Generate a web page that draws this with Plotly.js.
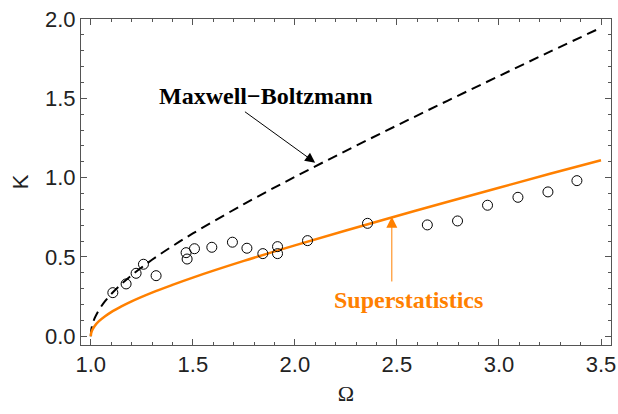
<!DOCTYPE html>
<html>
<head>
<meta charset="utf-8">
<script src="https://cdn.plot.ly/plotly-3.0.1.min.js"></script>
<style>html,body{margin:0;padding:0;background:#fff;}#chart{width:618px;height:414px;}</style>
</head>
<body>
<div id="chart"></div>
<script>
// Curve samples
const omegaCurve = [1.0, 1.002, 1.005, 1.01, 1.02, 1.04, 1.07, 1.1, 1.15, 1.2, 1.3, 1.4, 1.5, 1.75, 2.0, 2.25, 2.5, 2.75, 3.0, 3.25, 3.5];
const kMaxwell   = [0, 0.037, 0.058, 0.082, 0.117, 0.166, 0.221, 0.266, 0.329, 0.385, 0.482, 0.568, 0.648, 0.833, 1.005, 1.169, 1.329, 1.486, 1.640, 1.794, 1.945];
const kSuper     = [0, 0.021, 0.033, 0.047, 0.067, 0.095, 0.126, 0.152, 0.188, 0.220, 0.275, 0.324, 0.370, 0.475, 0.573, 0.667, 0.758, 0.848, 0.936, 1.024, 1.110];

// Measured points (open circles)
const omegaData = [1.108, 1.173, 1.222, 1.258, 1.320, 1.467, 1.472, 1.508, 1.593, 1.694, 1.765, 1.843, 1.915, 1.915, 2.062, 2.356, 2.649, 2.797, 2.944, 3.093, 3.240, 3.382];
const kData     = [0.275, 0.330, 0.397, 0.454, 0.382, 0.527, 0.487, 0.552, 0.561, 0.593, 0.555, 0.521, 0.565, 0.521, 0.603, 0.712, 0.702, 0.727, 0.826, 0.876, 0.910, 0.981];

const xTickVals = [1.0, 1.5, 2.0, 2.5, 3.0, 3.5];
const yTickVals = [0.0, 0.5, 1.0, 1.5, 2.0];

const labelMB = "Maxwell\u2212Boltzmann";
const labelSS = "Superstatistics";

const orange = "rgb(255,128,0)";
const frameCol = "#555555";

const traces = [
  {x: omegaCurve, y: kMaxwell, mode: "lines", line: {color: "black", width: 2, dash: "10px,6px", shape: "spline"}, hoverinfo: "skip"},
  {x: omegaCurve, y: kSuper, mode: "lines", line: {color: orange, width: 2.5, shape: "spline"}, hoverinfo: "skip"},
  {x: omegaData, y: kData, mode: "markers", marker: {symbol: "circle-open", size: 10, color: "black", line: {width: 1, color: "black"}}}
];

const axisCommon = {
  showgrid: false, zeroline: false, showline: true, linecolor: frameCol, linewidth: 1,
  mirror: "ticks", ticks: "inside", ticklen: 6, tickcolor: frameCol, tickwidth: 1,
  tickformat: ".1f", tickfont: {family: "Liberation Sans, Arial, sans-serif", size: 22, color: "#222"},
  minor: {ticks: "inside", ticklen: 3, tickcolor: frameCol, dtick: 0.1, showgrid: false}
};

const layout = {
  width: 618, height: 414,
  margin: {l: 81, r: 7, t: 19, b: 69},
  paper_bgcolor: "white", plot_bgcolor: "white",
  showlegend: false,
  xaxis: Object.assign({}, axisCommon, {
    range: [0.952, 3.549], tickvals: xTickVals,
    title: {text: "\u03A9", font: {family: "Liberation Serif, Times New Roman, serif", size: 22, color: "#222"}, standoff: 9}
  }),
  yaxis: Object.assign({}, axisCommon, {
    range: [-0.055, 2.0], tickvals: yTickVals,
    title: {text: "K", font: {family: "Liberation Sans, Arial, sans-serif", size: 22, color: "#222"}, standoff: 10}
  }),
  annotations: [
    {x: 2.0995, y: 1.0946, ax: 1.748, ay: 1.422, xref: "x", yref: "y", axref: "x", ayref: "y",
     text: "", showarrow: true, arrowhead: 2, arrowsize: 2, arrowwidth: 1, arrowcolor: "black"},
    {x: 2.475, y: 0.754, ax: 2.475, ay: 0.336, xref: "x", yref: "y", axref: "x", ayref: "y",
     text: "", showarrow: true, arrowhead: 2, arrowsize: 2.2, arrowwidth: 1, arrowcolor: orange},
    {x: 1.0 + (265.5 - 90.7) / 204, y: (336.3 - 95.7) / 158.6, xref: "x", yref: "y", showarrow: false,
     text: "<b>" + labelMB + "</b>", font: {family: "Liberation Serif, Times New Roman, serif", size: 24, color: "black"}},
    {x: 1.0 + (408 - 90.7) / 204, y: (336.3 - 300) / 158.6, xref: "x", yref: "y", showarrow: false,
     text: "<b>" + labelSS + "</b>", font: {family: "Liberation Serif, Times New Roman, serif", size: 24, color: orange}}
  ]
};

Plotly.newPlot("chart", traces, layout, {staticPlot: true, displayModeBar: false});
</script>
</body>
</html>
